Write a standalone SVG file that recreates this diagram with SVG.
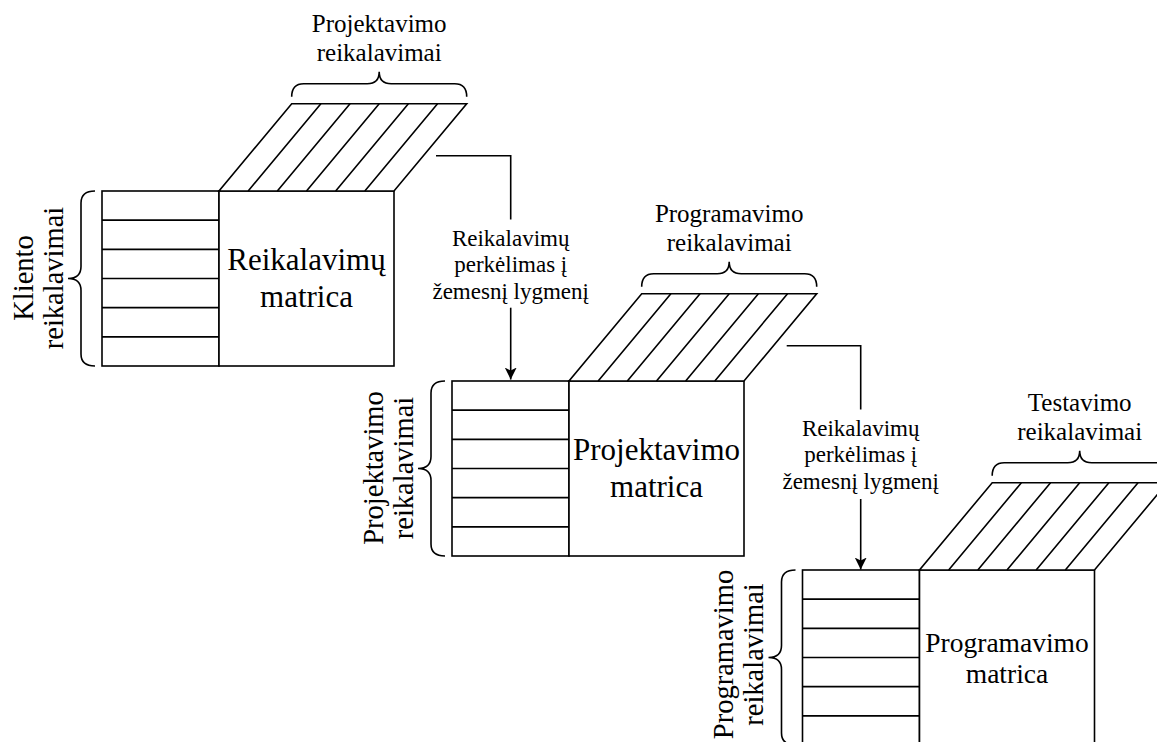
<svg xmlns="http://www.w3.org/2000/svg" width="1157" height="742" viewBox="0 0 1157 742">
  <style>
    .ln { fill: none; stroke: #000; stroke-width: 1.6; }
    .box { fill: #fff; stroke: #000; stroke-width: 1.6; }
    text { font-family: "Liberation Serif", "Times New Roman", serif; fill: #000; text-anchor: middle; }
    .top { font-size: 25px; }
    .side { font-size: 28.5px; }
    .main { font-size: 31px; }
    .small { font-size: 27.5px; }
    .lbl { font-size: 23px; }
  </style>
  <defs>
    <marker id="arrow" markerUnits="userSpaceOnUse" markerWidth="12" markerHeight="12" viewBox="0 0 12 12" refX="12" refY="6" orient="auto">
      <path d="M0,0 L12,6 L0,12 L3,6 Z" fill="#000"/>
    </marker>
    <!-- one matrix body: row strip, main box, slanted top face -->
    <g id="matrixBody">
      <rect class="box" x="0" y="0" width="117" height="175"/>
      <path class="ln" d="M0,29.17 H117 M0,58.33 H117 M0,87.5 H117 M0,116.67 H117 M0,145.83 H117"/>
      <rect class="box" x="117" y="0" width="175" height="175"/>
      <polygon class="box" points="117,0 292,0 364.7,-87.3 189.7,-87.3"/>
      <path class="ln" d="M146.17,0 L218.87,-87.3 M175.33,0 L248.03,-87.3 M204.5,0 L277.2,-87.3 M233.67,0 L306.37,-87.3 M262.83,0 L335.53,-87.3"/>
      <!-- brace over the top face -->
      <path class="ln" d="M189.7,-94.3 Q189.7,-107.3 201.7,-107.3 L265.2,-107.3 Q277.2,-107.3 277.2,-119.3 Q277.2,-107.3 289.2,-107.3 L352.7,-107.3 Q364.7,-107.3 364.7,-94.3"/>
      <!-- brace beside the row strip -->
      <path class="ln" d="M-7,0 Q-21,0 -21,12 L-21,75.5 Q-21,87.5 -34,87.5 Q-21,87.5 -21,99.5 L-21,163 Q-21,175 -7,175"/>
    </g>
  </defs>

  <!-- level 1: client requirements -->
  <g id="matrix1" transform="translate(102,191)">
    <use href="#matrixBody"/>
    <text class="top" x="277.2" y="-159.5">Projektavimo</text>
    <text class="top" x="277.2" y="-130.5">reikalavimai</text>
    <text class="side" transform="translate(-69,87) rotate(-90)">Kliento</text>
    <text class="side" transform="translate(-39,87) rotate(-90)">reikalavimai</text>
    <text class="main" x="204.5" y="78.5">Reikalavimų</text>
    <text class="main" x="204.5" y="115.5">matrica</text>
  </g>

  <!-- level 2: design requirements -->
  <g id="matrix2" transform="translate(452,381)">
    <use href="#matrixBody"/>
    <text class="top" x="277.2" y="-159.5">Programavimo</text>
    <text class="top" x="277.2" y="-130.5">reikalavimai</text>
    <text class="side" transform="translate(-69,87) rotate(-90)">Projektavimo</text>
    <text class="side" transform="translate(-39,87) rotate(-90)">reikalavimai</text>
    <text class="main" x="204.5" y="78.5">Projektavimo</text>
    <text class="main" x="204.5" y="115.5">matrica</text>
  </g>

  <!-- level 3: programming requirements -->
  <g id="matrix3" transform="translate(802.5,570)">
    <use href="#matrixBody"/>
    <text class="top" x="277.2" y="-159.5">Testavimo</text>
    <text class="top" x="277.2" y="-130.5">reikalavimai</text>
    <text class="side" transform="translate(-70,84.5) rotate(-90)">Programavimo</text>
    <text class="side" transform="translate(-40,84.5) rotate(-90)">reikalavimai</text>
    <text class="small" x="204.5" y="81.7">Programavimo</text>
    <text class="small" x="204.5" y="113.3">matrica</text>
  </g>

  <!-- transfers to the lower level -->
  <g id="connectors">
    <path class="ln" d="M436,155.7 H510.7 V219.5"/>
    <path class="ln" d="M510.7,307.7 V379.5" marker-end="url(#arrow)"/>
    <text class="lbl" x="510.7" y="245.5">Reikalavimų</text>
    <text class="lbl" x="510.7" y="272">perkėlimas į</text>
    <text class="lbl" x="510.7" y="298.5">žemesnį lygmenį</text>

    <path class="ln" d="M786.7,345.7 H860.7 V409.5"/>
    <path class="ln" d="M860.7,499 V569.5" marker-end="url(#arrow)"/>
    <text class="lbl" x="860.7" y="435.5">Reikalavimų</text>
    <text class="lbl" x="860.7" y="462">perkėlimas į</text>
    <text class="lbl" x="860.7" y="488.5">žemesnį lygmenį</text>
  </g>
</svg>
